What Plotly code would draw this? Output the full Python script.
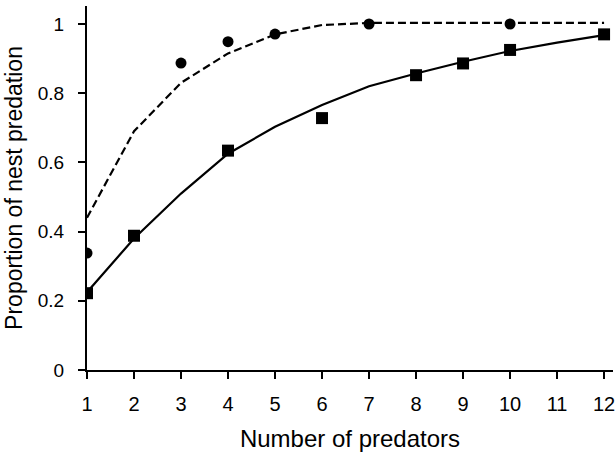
import plotly.graph_objects as go

# Data
predators = [1, 2, 3, 4, 5, 6, 7, 8, 9, 10, 11, 12]

circle_x = [1, 3, 4, 5, 7, 10]
circle_y = [0.338, 0.887, 0.949, 0.971, 1.0, 1.0]

square_x = [1, 2, 4, 6, 8, 9, 10, 12]
square_y = [0.222, 0.388, 0.634, 0.728, 0.852, 0.886, 0.925, 0.970]

dashed_fit = [0.44, 0.69, 0.83, 0.915, 0.97, 0.997, 1.003, 1.003, 1.003, 1.003, 1.003, 1.003]
solid_fit = [0.225, 0.38, 0.51, 0.625, 0.703, 0.766, 0.82, 0.857, 0.891, 0.922, 0.946, 0.968]

x_ticks = list(range(1, 13))
y_ticks = [0, 0.2, 0.4, 0.6, 0.8, 1]
y_ticklabels = ["0", "0.2", "0.4", "0.6", "0.8", "1"]

FONT = "Liberation Sans, Arial, Helvetica, sans-serif"

fig = go.Figure()
fig.add_trace(go.Scatter(x=predators, y=dashed_fit, mode="lines",
                         line=dict(color="black", width=2.2, dash="8px,4px"),
                         showlegend=False, hoverinfo="skip"))
fig.add_trace(go.Scatter(x=predators, y=solid_fit, mode="lines",
                         line=dict(color="black", width=2.2),
                         showlegend=False, hoverinfo="skip"))
fig.add_trace(go.Scatter(x=circle_x, y=circle_y, mode="markers",
                         marker=dict(symbol="circle", size=11, color="black"),
                         showlegend=False))
fig.add_trace(go.Scatter(x=square_x, y=square_y, mode="markers",
                         marker=dict(symbol="square", size=12, color="black"),
                         showlegend=False))

fig.update_layout(
    width=615, height=457,
    margin=dict(l=87, r=0, t=6, b=87),
    paper_bgcolor="white", plot_bgcolor="white",
    font=dict(family=FONT, color="black"),
    xaxis=dict(range=[1, 12.19], tickvals=x_ticks, ticks="outside", ticklen=7,
               tickwidth=2, tickcolor="black", showline=True, linecolor="black",
               linewidth=2, showgrid=False, zeroline=False,
               tickfont=dict(size=20), ticklabelstandoff=8, ticklabeloverflow="allow",
               title=dict(text="Number of predators", font=dict(size=24), standoff=16)),
    yaxis=dict(range=[0, 1.052], tickvals=y_ticks, ticktext=y_ticklabels,
               ticks="outside", ticklen=7, tickwidth=2, tickcolor="black",
               showline=True, linecolor="black", linewidth=2, showgrid=False,
               zeroline=False, tickfont=dict(size=19), ticklabelstandoff=10,
               title=dict(text="Proportion of nest predation", font=dict(size=23), standoff=9)),
)

fig.write_html("out.html", config={"displayModeBar": False},
               post_script="document.body.style.margin='0';document.body.style.overflow='hidden';")
